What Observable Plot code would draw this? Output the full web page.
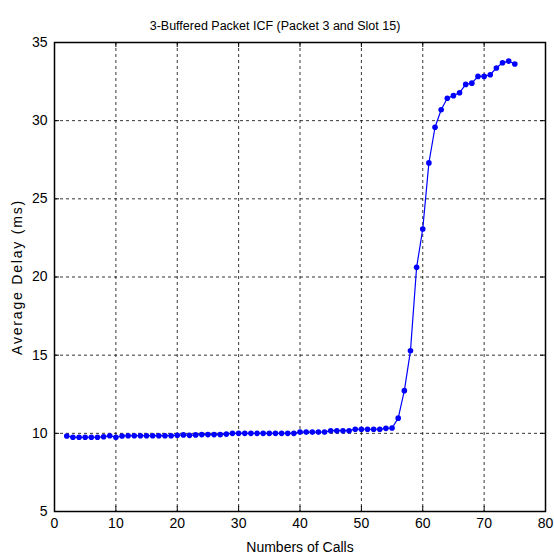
<!DOCTYPE html>
<html>
<head>
<meta charset="utf-8">
<script src="https://cdn.jsdelivr.net/npm/d3@7"></script>
<script src="https://cdn.jsdelivr.net/npm/@observablehq/plot@0.6"></script>
<style>
  body { margin: 0; background: #fff; }
  #chart [aria-label="y-axis label"] text { letter-spacing: 1.8px; }
</style>
</head>
<body>
<div id="chart"></div>
<script>
const calls = [2,3,4,5,6,7,8,9,10,11,12,13,14,15,16,17,18,19,20,21,22,23,24,25,26,27,28,29,30,
  31,32,33,34,35,36,37,38,39,40,41,42,43,44,45,46,47,48,49,50,51,52,53,54,55,56,57,58,59,60,
  61,62,63,64,65,66,67,68,69,70,71,72,73,74,75];
const delay = [9.83,9.75,9.75,9.75,9.75,9.75,9.78,9.85,9.75,9.83,9.85,9.85,9.85,9.85,9.85,9.85,9.85,9.85,9.88,9.9,9.87,9.9,9.92,9.92,9.92,9.92,9.95,10.0,10.0,
  10.0,10.0,10.0,10.0,10.0,10.0,10.0,10.0,10.0,10.08,10.08,10.08,10.08,10.08,10.17,10.17,10.17,10.17,10.26,10.26,10.26,10.26,10.26,10.32,10.34,10.97,
  12.73,15.28,20.62,23.07,27.3,29.58,30.7,31.43,31.6,31.79,32.32,32.4,32.83,32.83,32.94,33.37,33.7,33.81,33.62];
const xTicks = [0,10,20,30,40,50,60,70,80];
const yTicks = [5,10,15,20,25,30,35];
const titleText = "3-Buffered Packet ICF (Packet 3 and Slot 15)";

const data = calls.map((c, i) => ({calls: c, delay: delay[i]}));
const font = '"Liberation Sans", Arial, sans-serif';

const chart = Plot.plot({
  width: 554,
  height: 558,
  marginLeft: 54,
  marginRight: 9,
  marginTop: 42,
  marginBottom: 47,
  style: {fontFamily: font, fontSize: "14px", color: "#000", background: "#fff"},
  x: {domain: [0, 80], ticks: xTicks},
  y: {domain: [5, 35], ticks: yTicks},
  marks: [
    Plot.gridX(xTicks, {stroke: "#000", strokeOpacity: 1, strokeWidth: 0.8, strokeDasharray: "3,3"}),
    Plot.gridY(yTicks, {stroke: "#000", strokeOpacity: 1, strokeWidth: 0.8, strokeDasharray: "3,3"}),
    Plot.ruleX(xTicks, {y1: 5, y2: 5, insetTop: -5, stroke: "#000"}),
    Plot.ruleX(xTicks, {y1: 35, y2: 35, insetBottom: -5, stroke: "#000"}),
    Plot.ruleY(yTicks, {x1: 0, x2: 0, insetRight: -5, stroke: "#000"}),
    Plot.ruleY(yTicks, {x1: 80, x2: 80, insetLeft: -5, stroke: "#000"}),
    Plot.frame({stroke: "#000", strokeWidth: 1.5}),
    Plot.axisX(xTicks, {tickSize: 0, tickPadding: 7, fontSize: 14, label: "Numbers of Calls", labelAnchor: "center", labelArrow: "none", labelOffset: 40}),
    Plot.axisY(yTicks, {tickSize: 0, tickPadding: 7, fontSize: 14, label: "Average Delay (ms)", labelAnchor: "center", labelArrow: "none", labelOffset: 42}),
    Plot.line(data, {x: "calls", y: "delay", stroke: "#0000ff", strokeWidth: 1.2}),
    Plot.dot(data, {x: "calls", y: "delay", fill: "#0000ff", r: 2.8}),
    Plot.text([titleText], {frameAnchor: "top", dy: -21, dx: -25, text: d => d, fontSize: 12.5, fill: "#000"})
  ]
});
document.getElementById("chart").append(chart);
</script>
</body>
</html>
